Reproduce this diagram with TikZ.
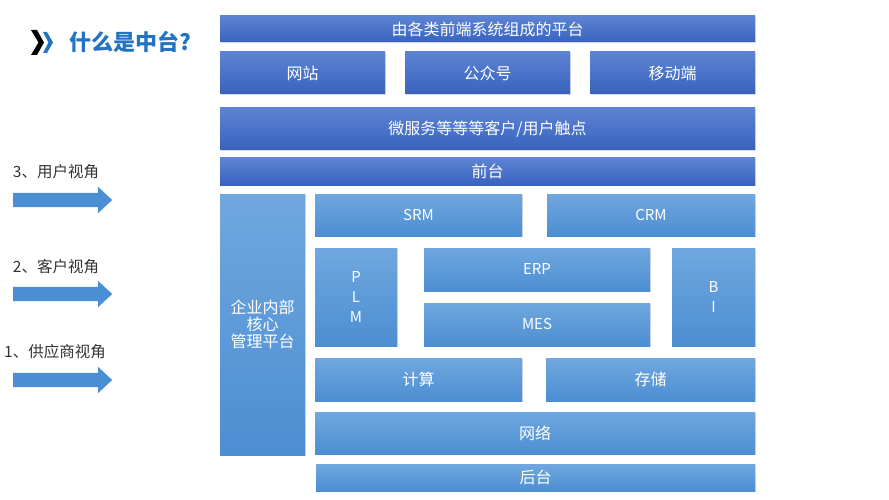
\documentclass[tikz,border=0pt]{standalone}
\usepackage{fontspec}
\setmainfont{Noto Sans CJK SC}
\usetikzlibrary{shapes.arrows, shadows, positioning}
\definecolor{dktop}{HTML}{5D84D3}
\definecolor{dkbot}{HTML}{3862BE}
\definecolor{lttop}{HTML}{70A7DF}
\definecolor{ltbot}{HTML}{4C8ED2}
\definecolor{arrc}{HTML}{4A8FD3}
\definecolor{ttl}{HTML}{2273C4}
\tikzset{
  bx/.style={inner sep=0pt, text=white, font=\fontsize{16}{20}\selectfont, align=center,
    drop shadow={shadow xshift=.6pt, shadow yshift=-1.2pt, opacity=.3}},
  dk/.style={bx, top color=dktop, bottom color=dkbot},
  lt/.style={bx, top color=lttop, bottom color=ltbot},
  sz/.style 2 args={minimum width=#1pt, minimum height=#2pt},
  lbl/.style={text=black!80, font=\fontsize{15.5}{18}\selectfont},
  arr/.style={single arrow, fill=arrc, minimum height=99pt, text height=7pt, text depth=7pt,
    text width=0pt, single arrow head extend=6pt, single arrow tip angle=86, inner sep=0pt,
    anchor=tail},
}
\begin{document}
\begin{tikzpicture}[x=1pt, y=-1pt]
\useasboundingbox (0,0) rectangle (889,500);

\fill (31,30) -- (37,30) -- (44,42.5) -- (37,55) -- (31,55) -- (38.5,42.5) -- cycle;
\fill[ttl] (43,32) -- (47,32) -- (53,42.5) -- (47,53) -- (43,53) -- (48.5,42.5) -- cycle;
\node[text=ttl, font=\fontsize{22}{26}\selectfont\bfseries] (t) at (130,42) {什么是中台?};

\node[dk, sz={535}{26}] (f) at (487.5,29) {由各类前端系统组成的平台};
\node[dk, sz={165}{42}] (w1) at (302.5,73) {网站};
\node[dk, sz={165}{42}] (w2) at (487.5,73) {公众号};
\node[dk, sz={165}{42}] (w3) at (672.5,73) {移动端};
\node[dk, sz={535}{42}] (ms) at (487.5,129) {微服务等等等客户/用户触点};
\node[dk, sz={535}{27}] (qt) at (487.5,171.5) {前台};

\node[lt, sz={85}{261}] (core) at (262.5,324.5) {企业内部\\[-3pt]核心\\[-3pt]管理平台};
\node[lt, sz={207}{42}, font=\fontsize{15}{20}\selectfont] (srm) at (418.5,215) {SRM};
\node[lt, sz={208}{42}, font=\fontsize{15}{20}\selectfont] (crm) at (651,215) {CRM};
\node[lt, sz={82}{98}, font=\fontsize{15}{20}\selectfont] (plm) at (356,297) {P\\L\\M};
\node[lt, sz={226}{43}, font=\fontsize{15}{20}\selectfont] (erp) at (537,269.5) {ERP};
\node[lt, sz={226}{43}, font=\fontsize{15}{20}\selectfont] (mes) at (537,324.5) {MES};
\node[lt, sz={83}{98}, font=\fontsize{15}{20}\selectfont] (bi) at (713.5,297) {B\\I};
\node[lt, sz={207}{43}] (js) at (418.5,379.5) {计算};
\node[lt, sz={209}{43}] (cc) at (650.5,379.5) {存储};
\node[lt, sz={440}{42}] (wl) at (535,433) {网络};
\node[lt, sz={439}{27}] (ht) at (535.5,477.5) {后台};

\node[lbl] (l3) at (56,172) {3、用户视角};
\node[arr] (a3) at (13,200) {};
\node[lbl] (l2) at (56,267) {2、客户视角};
\node[arr] (a2) at (13,294) {};
\node[lbl] (l1) at (55,352) {1、供应商视角};
\node[arr] (a1) at (13,380) {};

\end{tikzpicture}
\end{document}
